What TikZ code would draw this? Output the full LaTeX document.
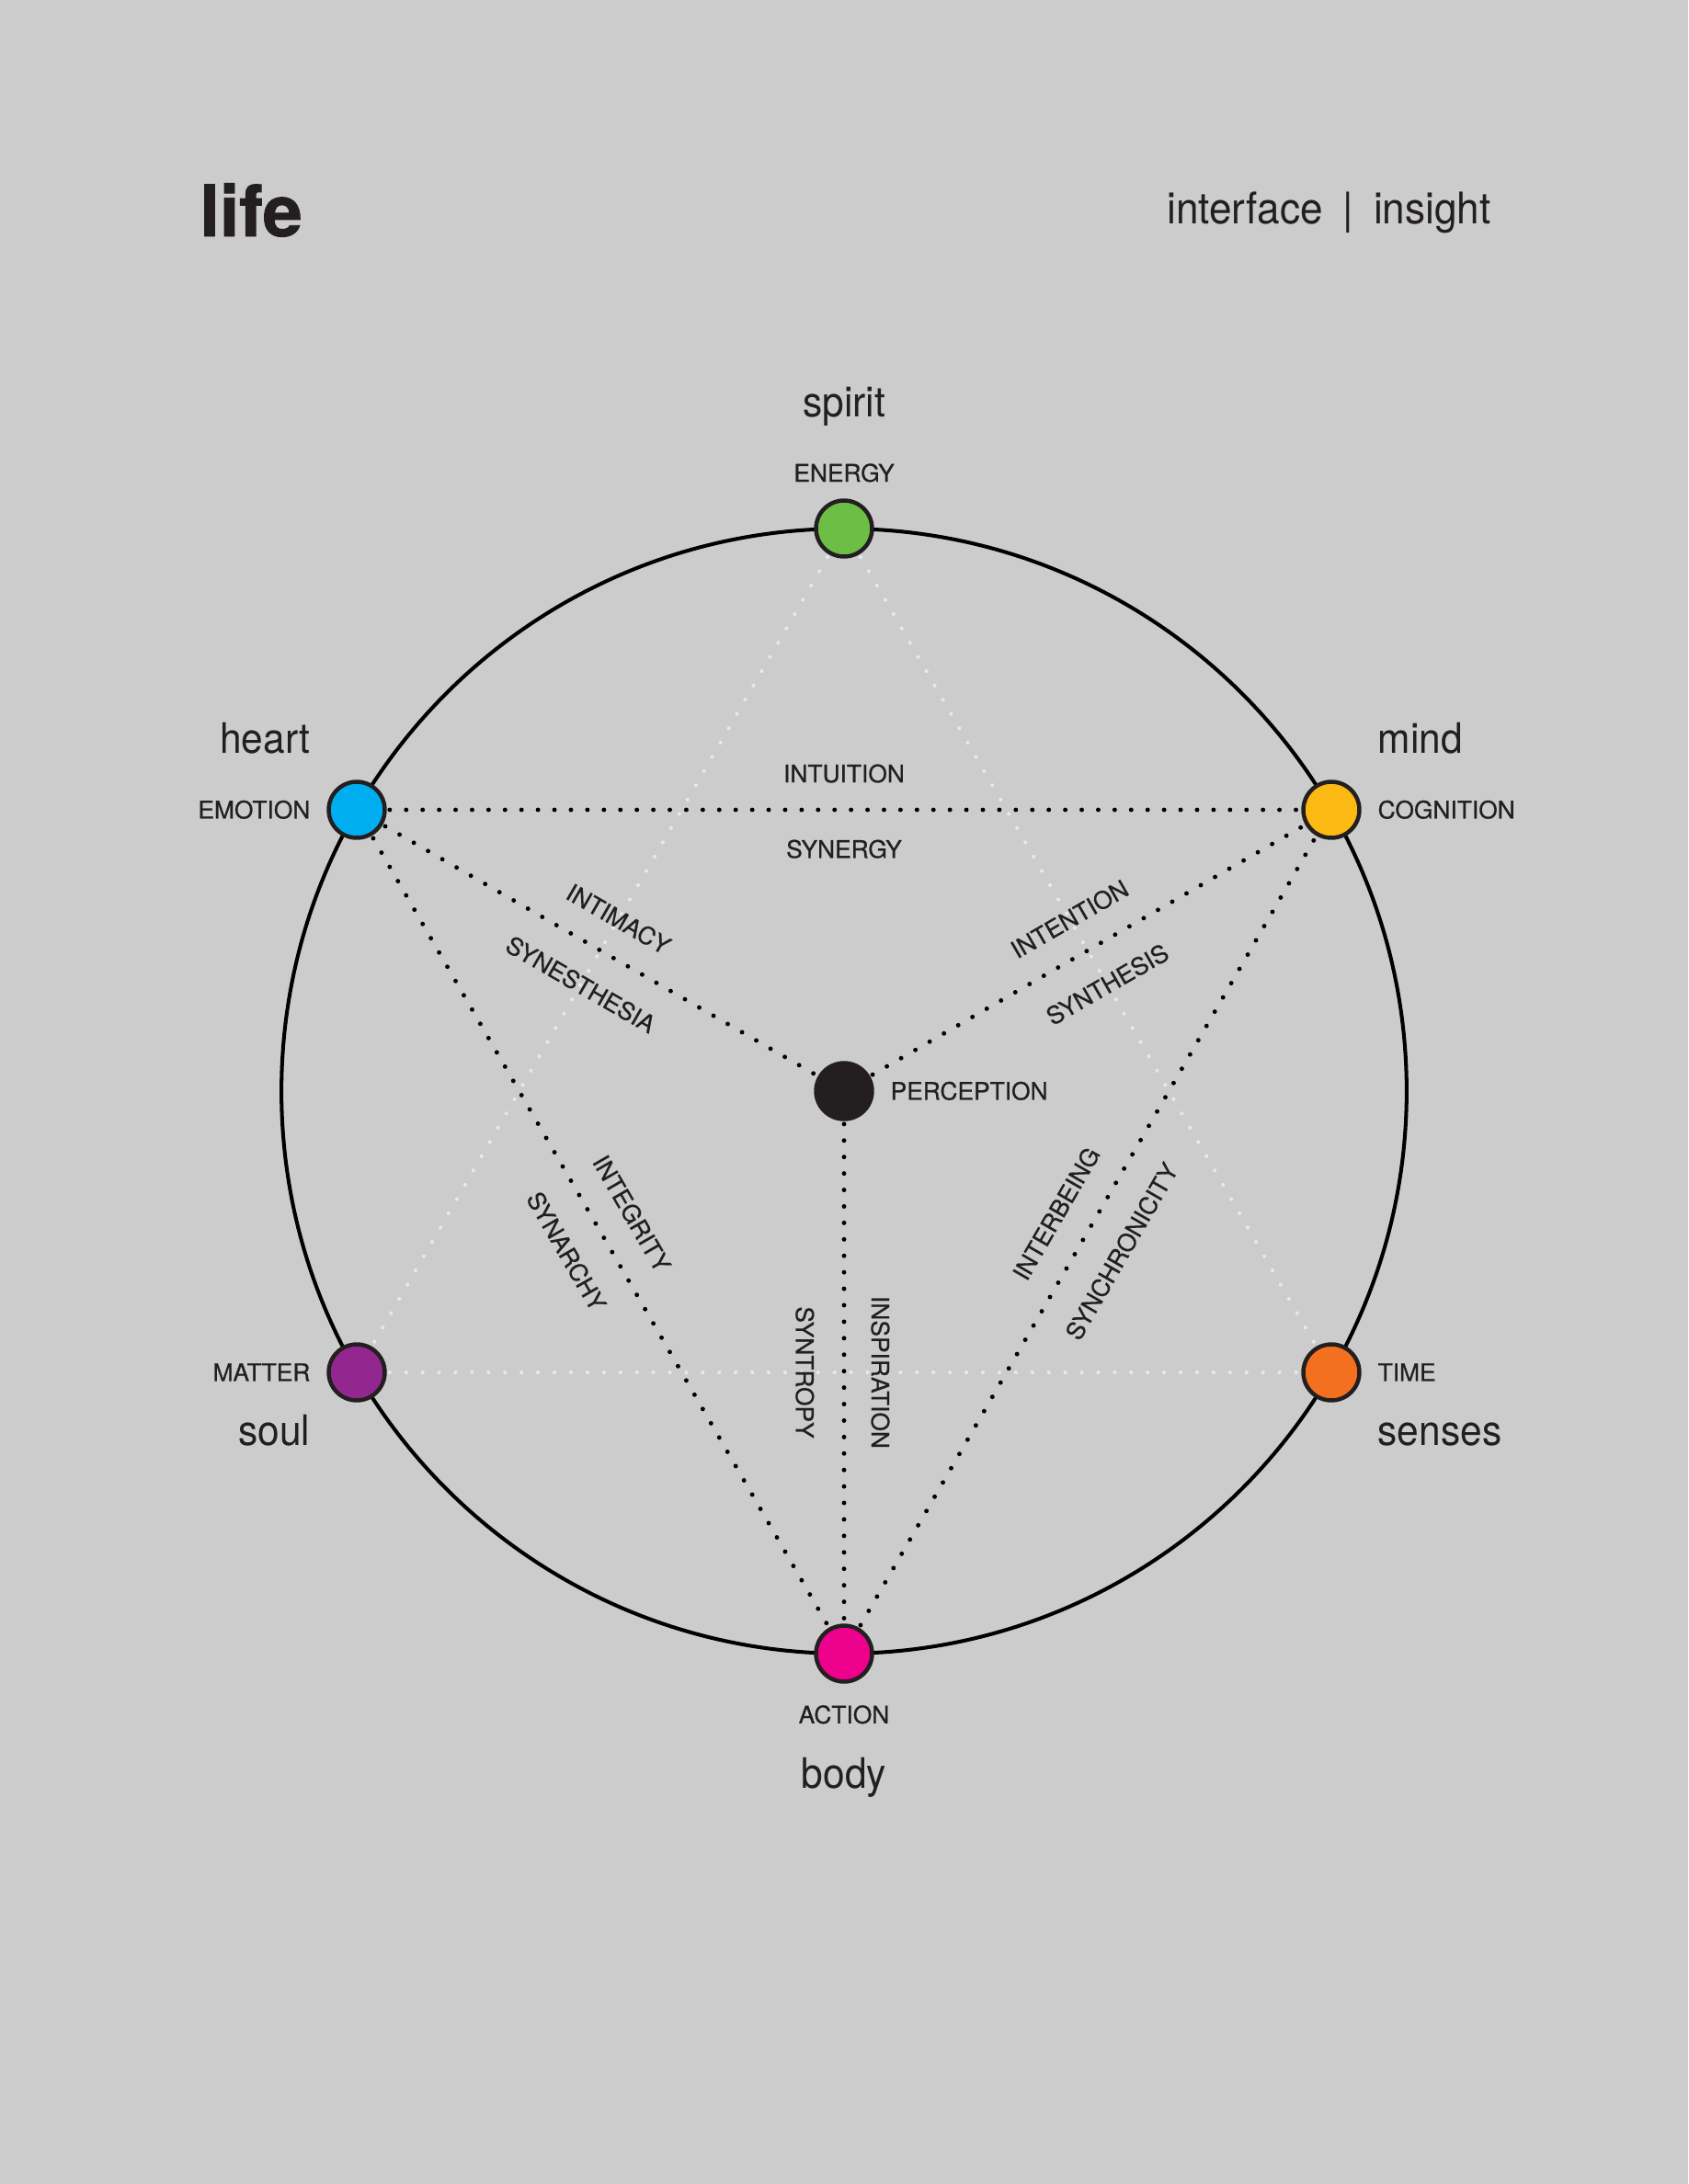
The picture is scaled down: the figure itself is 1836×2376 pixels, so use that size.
\documentclass[tikz,border=0pt]{standalone}
\usepackage{fontspec}
\setmainfont{TeX Gyre Heros}
\newfontfamily\capsface{TeX Gyre Heros}[FakeBold=0.6]
\newfontfamily\titleface{TeX Gyre Heros Bold}[FakeBold=1.2]
\usepackage{graphicx}
\usetikzlibrary{positioning}
\definecolor{paper}{HTML}{CCCCCC}
\definecolor{ink}{HTML}{231F20}
\definecolor{ghost}{HTML}{E8E8E8}
\definecolor{cEnergy}{HTML}{6DBE45}
\definecolor{cEmotion}{HTML}{00AEEF}
\definecolor{cCognition}{HTML}{FDB913}
\definecolor{cMatter}{HTML}{92278F}
\definecolor{cTime}{HTML}{F37021}
\definecolor{cAction}{HTML}{EC008C}
\newcommand{\narrow}[1]{\scalebox{0.93}[1]{#1}}
\pgfdeclarelayer{back}
\pgfsetlayers{back,main}

\begin{document}
\begin{tikzpicture}[x=0.02cm,y=-0.02cm,
	dot/.style={circle, 
		draw=ink, 
		line width=2.55pt, 
		minimum size=34.7pt, 
		inner sep=0pt},
	caps/.style={font=\capsface\fontsize{15}{18}\selectfont, text=ink, inner sep=0pt, text height=10.75pt, text depth=0pt},
	word/.style={font=\fontsize{26}{30}\selectfont, text=ink, inner sep=0pt},
	bond/.style={draw=black, line width=2.8pt, line cap=round, dash pattern=on 0pt off 10.2pt},
	faint/.style={draw=ghost, line width=2.4pt, line cap=round, dash pattern=on 0pt off 10.2pt},
	lbl/.style={caps, midway, sloped},
	over/.style={anchor=south, outer ysep=17pt},
	under/.style={anchor=north, outer ysep=19pt}]
	% header
	\node[font=\titleface\fontsize{44}{48}\selectfont, text=ink, inner sep=0pt, anchor=base west] (title) at (217,257) {life};
	\node[word, font=\fontsize{27}{30}\selectfont, anchor=base east] (tagline) at (1622,243) {\narrow{interface\hspace{0.5em}|\hspace{0.5em}insight}};
	% the six points and the centre
	\node[dot, fill=cEnergy] (energy) at (918,575) {};
	\node[dot, fill=cEmotion] (heart) at (388,881) {};
	\node[dot, fill=cCognition] (mind) at (1448,881) {};
	\node[dot, fill=cMatter] (matter) at (388,1493) {};
	\node[dot, fill=cTime] (time) at (1448,1493) {};
	\node[dot, fill=cAction] (action) at (918,1799) {};
	\node[dot, fill=ink] (perc) at (918,1187) {};
	% labels
	\node[caps, above=10.2pt of energy] (energylbl) {ENERGY};
	\node[word, anchor=base] (spirit) at ([yshift=40.3pt]energylbl.base) {\narrow{spirit}};
	\node[caps, left=10pt of heart] (emotion) {EMOTION};
	\node[word, anchor=base east] (heartlbl) at ([yshift=40.3pt]emotion.base east) {\narrow{heart}};
	\node[caps, right=10pt of mind] (cognition) {COGNITION};
	\node[word, anchor=base west] (mindlbl) at ([yshift=40.3pt]cognition.base west) {\narrow{mind}};
	\node[caps, left=10pt of matter] (matterlbl) {MATTER};
	\node[word, anchor=base east] (soul) at ([yshift=-40pt]matterlbl.base east) {\narrow{soul}};
	\node[caps, right=10pt of time] (timelbl) {TIME};
	\node[word, anchor=base west] (senses) at ([yshift=-40pt]timelbl.base west) {\narrow{senses}};
	\node[caps, below=13.6pt of action] (actionlbl) {ACTION};
	\node[word, anchor=base] (body) at ([yshift=-40.3pt]actionlbl.base) {\narrow{body}};
	\node[caps, right=10pt of perc] (perclbl) {PERCEPTION};
	\begin{pgfonlayer}{back}
		\fill[paper] (0,0) rectangle (1836,2376);
		\draw[line width=2.3pt] (perc.center) circle[radius=12.24cm];
		% faint triangle
		\draw[faint] (energy.center) -- (matter.center);
		\draw[faint] (energy.center) -- (time.center);
		\draw[faint] (matter.center) -- (time.center);
		% dotted bonds
		\draw[bond] (heart.center) -- (mind.center) node[lbl, over]{INTUITION} node[lbl, under]{SYNERGY};
		\draw[bond] (heart.center) -- (perc.center) node[lbl, over]{INTIMACY} node[lbl, under]{SYNESTHESIA};
		\draw[bond] (perc.center) -- (mind.center) node[lbl, over]{INTENTION} node[lbl, under]{SYNTHESIS};
		\draw[bond] (heart.center) -- (action.center) node[lbl, over]{INTEGRITY} node[lbl, under]{SYNARCHY};
		\draw[bond] (action.center) -- (mind.center) node[lbl, over]{INTERBEING} node[lbl, under]{SYNCHRONICITY};
		\draw[bond] (perc.center) -- (action.center) node[lbl, over]{INSPIRATION} node[lbl, under]{SYNTROPY};
	\end{pgfonlayer}
\end{tikzpicture}
\end{document}
